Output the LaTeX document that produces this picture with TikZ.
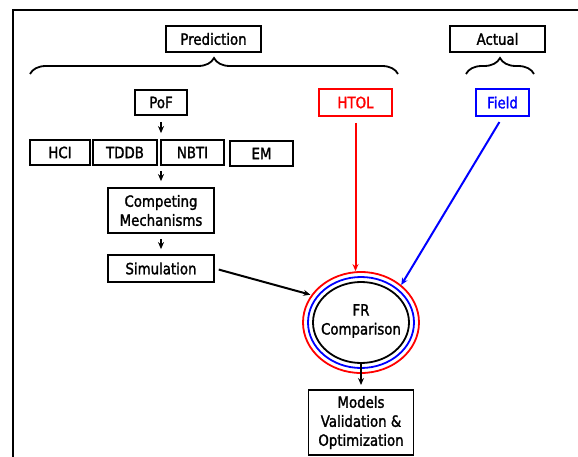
\documentclass[tikz,border=0pt]{standalone}
\usepackage{fontspec}
\setmainfont{DejaVu Sans}[FakeBold=1.6, FakeStretch=0.86]
\usetikzlibrary{shapes.geometric,decorations.pathreplacing,arrows.meta}
\begin{document}
\begin{tikzpicture}[x=1pt,y=-1pt,
  every node/.style={font=\fontsize{15.5}{19}\selectfont, align=center},
  box/.style={draw, line width=1.8pt, inner sep=0pt},
  arr/.style={line width=2pt, -{Stealth[length=7pt,width=6pt]}},
  brc/.style={line width=1.8pt, decorate, decoration={brace, amplitude=16pt}},
  ell/.style={ellipse, inner sep=0pt, line width=1.8pt}]
\useasboundingbox (0,0) rectangle (578,457);
% frame
\draw[line width=2.8pt] (13,457) -- (13,10) -- (578,10);
% top labels
\node[box, minimum width=95pt, minimum height=26pt] (pred) at (213.5,39) {Prediction};
\node[box, minimum width=95pt, minimum height=26pt] (act) at (497.5,39) {Actual};
\coordinate (pb1) at (30,74);
\coordinate (pb2) at (398,74);
\coordinate (ab1) at (466,74);
\coordinate (ab2) at (534,74);
\draw[brc] (pb1) -- (pb2);
\draw[brc] (ab1) -- (ab2);
% second row
\node[box, minimum width=52pt, minimum height=25pt] (pof) at (161,102.5) {PoF};
\node[box, draw=red, text=red, minimum width=73pt, minimum height=27pt] (htol) at (355.5,102.5) {HTOL};
\node[box, draw=blue, text=blue, minimum width=53pt, minimum height=27pt] (field) at (502.5,102.5) {Field};
% mechanisms
\node[box, minimum width=60pt, minimum height=25pt] (hci) at (60,152.5) {HCI};
\node[box, minimum width=64pt, minimum height=25pt] (tddb) at (125,152.5) {TDDB};
\node[box, minimum width=63pt, minimum height=25pt] (nbti) at (192.5,152.5) {NBTI};
\node[box, minimum width=63pt, minimum height=25pt] (em) at (261.5,153.5) {EM};
\node[box, minimum width=106pt, minimum height=45pt] (comp) at (161,210.5) {Competing\\Mechanisms};
\node[box, minimum width=106pt, minimum height=27pt] (sim) at (161,268.5) {Simulation};
% FR comparison
\node[ell, draw=black, minimum width=96pt, minimum height=81pt] (fr) at (361,322.5) {};
\node[ell, draw=blue, minimum width=106pt, minimum height=91pt] (frb) at (361,322.5) {};
\node[ell, draw=red, minimum width=116pt, minimum height=101pt] (frr) at (361,322.5) {};
\node (frt) at (361,321) {FR\\Comparison};
\node[box, minimum width=105pt, minimum height=65pt] (models) at (361,422.5) {Models\\Validation \&\\Optimization};
% arrows
\draw[arr, shorten <=6pt, shorten >=6pt] (pof.south) -- (pof.south |- nbti.north);
\draw[arr, shorten <=5pt, shorten >=6pt] (comp.north |- nbti.south) -- (comp.north);
\draw[arr, shorten <=5pt, shorten >=5pt] (comp.south) -- (sim.north);
\draw[arr, shorten <=4pt, shorten >=1pt] (sim.east) -- (frr.151);
\draw[arr, red, shorten <=6pt] (htol.south) -- (htol.south |- frr.north);
\draw[arr, blue, shorten <=6pt] (field.south) -- (frr.43);
\draw[arr] (fr.south) -- (fr.south |- 0,385);
\end{tikzpicture}
\end{document}
